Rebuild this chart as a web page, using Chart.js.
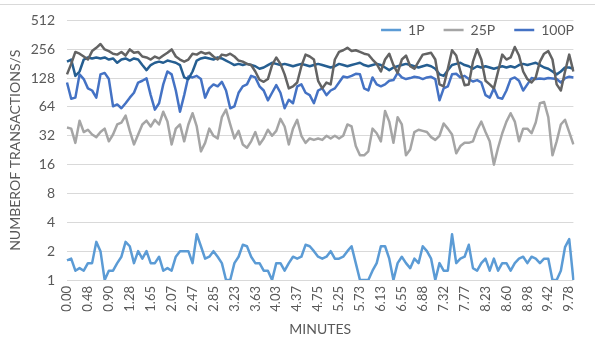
<!DOCTYPE html>
<html>
<head>
<meta charset="utf-8">
<script src="https://cdn.jsdelivr.net/npm/chart.js@4/dist/chart.umd.min.js"></script>
<style>
  html, body { margin: 0; padding: 0; background: #ffffff; }
  #wrap { position: relative; width: 595px; height: 342px; }
  #topRule { position: absolute; left: 0; top: 4px; width: 595px; height: 1px; background: #D9D9D9; }
  canvas { position: absolute; left: 0; top: 0; }
</style>
</head>
<body>
<div id="wrap">
  <div id="topRule"></div>
  <canvas id="c" width="595" height="342"></canvas>
</div>
<script>
// Elapsed time (minutes) printed under every fifth sample
const minuteTicks = ["0.00","0.48","0.90","1.28","1.65","2.07","2.47","2.85","3.23","3.63",
  "4.03","4.37","4.75","5.25","5.73","6.13","6.55","6.88","7.32","7.77",
  "8.23","8.60","8.98","9.42","9.78"];
const POINTS_PER_TICK = 5;

// Powers of two on the throughput axis
const yTicks = [1, 2, 4, 8, 16, 32, 64, 128, 256, 512];

// Transactions per second, one value per sample
const series1P = [1.6,1.67,1.25,1.33,1.25,1.5,1.5,2.5,2,1,
  1.25,1.25,1.5,1.75,2.5,2.25,1.5,2,1.67,2,
  1.5,1.5,1.75,1.25,1.33,1.25,1.75,2,2,2,
  1.5,3,2.25,1.67,1.75,2,1.75,1.5,1,1,
  1.5,1.75,2.33,2.25,1.75,1.5,1.5,1.25,1.25,1,
  1.5,1.5,1.25,1.5,1.75,1.67,1.75,2.33,2.25,2,
  1.75,1.67,1.75,2,1.67,1.67,1.75,2,2.25,1.5,
  1,1,1,1.25,1.5,2.25,2.25,1.67,1,1.5,
  1.75,1.5,1.33,1.67,1.5,2.25,2,1.67,1,1.5,
  1.25,1.25,3,1.5,1.67,1.75,2.33,1.33,1.25,1.5,
  1.67,1.25,1.67,1.25,1.5,1.5,1.25,1.5,1.67,1.75,
  1.5,1.75,1.67,1.5,1.67,1.67,1,1,1.25,2.2,
  2.67,1];

const series25P = [39,38,27,46,35,37,33,31,35,38,
  28,33,42,44,52,36,26,33,42,46,
  40,47,42,57,45,26,38,42,28,42,
  55,40,22,27,38,32,30,50,60,42,
  30,36,26,24,28,35,26,30,37,32,
  36,48,40,26,38,47,32,27,30,29,
  30,29,32,30,32,30,32,42,40,25,
  20,20,22,38,34,28,58,45,27,50,
  42,20,23,35,37,36,35,31,29,32,
  43,38,33,21,25,27,27,28,37,45,
  35,28,16,24,34,45,55,45,28,38,
  38,34,44,70,72,50,20,28,42,47,
  35,26];

const series100P = [115,78,80,140,125,100,95,80,140,145,
  125,65,68,62,70,80,90,115,120,127,
  85,60,70,110,150,140,95,57,85,133,
  130,135,125,80,100,110,105,117,95,62,
  65,90,105,110,135,130,105,95,75,90,
  108,90,62,76,70,105,110,90,85,70,
  95,100,85,95,100,115,133,130,135,142,
  140,100,95,130,110,105,110,120,122,145,
  130,125,128,132,130,125,130,132,125,75,
  100,105,140,142,130,135,125,118,122,115,
  85,80,100,80,78,95,125,130,120,95,
  110,128,125,127,125,128,127,125,115,128,
  132,130];

const series4 = [140,180,240,230,215,200,245,265,290,255,
  245,230,225,240,220,255,235,240,215,210,
  200,215,205,220,235,255,215,200,190,200,
  230,225,240,230,235,215,200,225,220,230,
  215,195,190,180,175,150,123,117,125,175,
  210,180,140,100,105,115,170,225,215,200,
  120,100,115,110,200,240,250,265,245,250,
  240,230,225,200,180,150,200,230,175,145,
  200,220,170,160,190,225,230,235,200,110,
  105,160,250,220,150,108,110,190,256,200,
  120,110,100,150,225,200,210,270,220,150,
  125,115,130,190,230,245,200,110,95,150,
  225,150];

const series5 = [190,200,135,150,200,210,205,210,205,210,
  200,205,185,200,205,195,205,200,175,155,
  175,185,190,185,195,190,185,175,130,125,
  150,195,205,210,205,200,210,205,195,185,
  175,180,175,180,175,170,160,165,175,185,
  180,175,180,175,170,175,180,175,170,175,
  180,175,170,165,170,180,175,170,175,180,
  185,175,170,175,180,175,165,155,165,170,
  175,180,175,170,165,170,175,170,160,140,
  135,155,175,180,185,175,170,160,170,165,
  170,165,160,165,170,165,170,165,175,180,
  175,180,185,175,165,160,150,140,150,165,
  165,160];

const legendNames = ["1P", "25P", "100P"];

const FONT = "Lato, 'Open Sans', sans-serif";
const TEXT = "#595959";

const labels = series1P.map((_, i) =>
  i % POINTS_PER_TICK === 0 ? (minuteTicks[i / POINTS_PER_TICK] || "") : "");

function lineSet(label, data, color) {
  return {
    label, data,
    borderColor: color,
    backgroundColor: color,
    borderWidth: 2.5,
    pointRadius: 0,
    tension: 0,
    borderJoinStyle: "round",
    fill: false
  };
}

// The legend reserves only the top margin, then is allowed to spill down
// into the band just under the top grid line
const legendBand = {
  id: "legendBand",
  afterLayout(chart) {
    const lg = chart.legend;
    if (!lg) return;
    lg.top = 4;
    lg.bottom = 52;
    lg.height = 48;
  }
};

new Chart(document.getElementById("c"), {
  type: "line",
  data: {
    labels,
    datasets: [
      lineSet("Series 4", series4, "#636363"),
      lineSet("Series 5", series5, "#255E91"),
      lineSet("1P", series1P, "#5B9BD5"),
      lineSet("25P", series25P, "#A5A5A5"),
      lineSet("100P", series100P, "#4472C4")
    ]
  },
  options: {
    responsive: false,
    animation: false,
    devicePixelRatio: 1,
    layout: { padding: { top: 0, right: 2, left: 0, bottom: 0 } },
    plugins: {
      legend: {
        position: "top",
        align: "end",
        maxHeight: 18,
        labels: {
          filter: item => legendNames.includes(item.text),
          usePointStyle: true,
          pointStyle: "line",
          pointStyleWidth: 20,
          padding: 19,
          color: TEXT,
          font: { family: FONT, size: 14 }
        }
      },
      tooltip: { enabled: false }
    },
    scales: {
      x: {
        type: "category",
        offset: false,
        grid: { display: false, drawTicks: false },
        border: { display: false },
        ticks: {
          autoSkip: false,
          maxRotation: 90,
          minRotation: 90,
          padding: 6,
          color: TEXT,
          font: { family: FONT, size: 13 }
        },
        title: {
          display: true,
          text: "MINUTES",
          color: TEXT,
          font: { family: FONT, size: 14 },
          padding: { top: 0, bottom: 4 }
        },
        afterFit(scale) { scale.height = 62; }
      },
      y: {
        type: "logarithmic",
        min: 1,
        max: 512,
        grid: { color: "#D9D9D9", drawTicks: false, lineWidth: 1 },
        border: { display: false },
        afterBuildTicks(scale) { scale.ticks = yTicks.map(v => ({ value: v })); },
        ticks: {
          padding: 12,
          color: TEXT,
          font: { family: FONT, size: 14 },
          callback: v => String(v)
        },
        title: {
          display: true,
          text: "NUMBEROF TRANSACTIONS/S",
          color: TEXT,
          font: { family: FONT, size: 14 },
          padding: { top: 7, bottom: 0 }
        },
        afterFit(scale) { scale.width = 67; }
      }
    }
  },
  plugins: [legendBand]
});
</script>
</body>
</html>
